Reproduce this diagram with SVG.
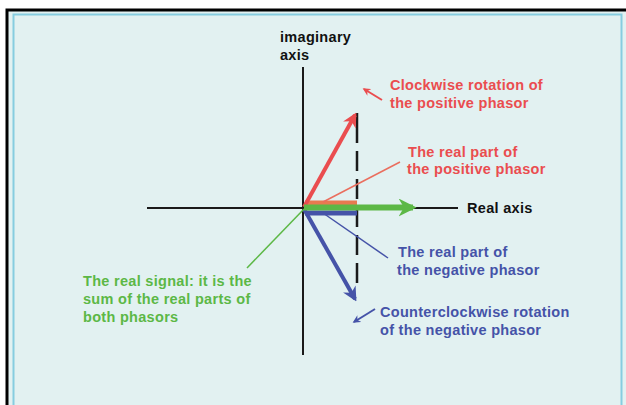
<svg xmlns="http://www.w3.org/2000/svg" width="626" height="405" viewBox="0 0 626 405">
<defs>
<style>
text{font-family:"Liberation Sans",Arial,sans-serif;font-weight:bold;font-size:14.5px;letter-spacing:0.3px}
.red{fill:#ea4d4f}
.blue{fill:#4553a8}
.green{fill:#5cb846}
.blk{fill:#111}
.axis{stroke:#1a1a1a;stroke-width:2;fill:none}
</style>
<marker id="hr" viewBox="0 0 10 10" refX="8" refY="5" markerWidth="3.6" markerHeight="3.6" orient="auto" markerUnits="strokeWidth"><path d="M0,0 L10,5 L0,10 L3,5 Z" fill="#ea4d4f"/></marker>
<marker id="hb" viewBox="0 0 10 10" refX="8" refY="5" markerWidth="3.6" markerHeight="3.6" orient="auto" markerUnits="strokeWidth"><path d="M0,0 L10,5 L0,10 L3,5 Z" fill="#4553a8"/></marker>
<marker id="hg" viewBox="0 0 10 10" refX="8" refY="5" markerWidth="3" markerHeight="3" orient="auto" markerUnits="strokeWidth"><path d="M0,0 L10,5 L0,10 L3,5 Z" fill="#5cb846"/></marker>
<marker id="sr" viewBox="0 0 10 10" refX="8" refY="5" markerWidth="4" markerHeight="4" orient="auto" markerUnits="strokeWidth"><path d="M0,0 L10,5 L0,10 L3,5 Z" fill="#ea4d4f"/></marker>
<marker id="sb" viewBox="0 0 10 10" refX="8" refY="5" markerWidth="4" markerHeight="4" orient="auto" markerUnits="strokeWidth"><path d="M0,0 L10,5 L0,10 L3,5 Z" fill="#4553a8"/></marker>
</defs>
<rect x="0" y="0" width="626" height="405" fill="#ffffff"/>
<rect x="7" y="10" width="630" height="410" fill="#e2f1f1" stroke="#000" stroke-width="3"/>
<rect x="13.5" y="14.5" width="608" height="400" fill="#e2f1f1" stroke="#86cde0" stroke-width="2"/>
<g id="connectors">
<line class="axis" x1="303" y1="67" x2="303" y2="355"/>
<line class="axis" x1="147" y1="208" x2="458" y2="208"/>
<line x1="357" y1="113" x2="357" y2="300" stroke="#1a1a1a" stroke-width="2.5" stroke-dasharray="30,8,20,8,20,8,20,8,20,8,20"/>
<line x1="357" y1="203" x2="305" y2="203" stroke="#e87a50" stroke-width="5"/>
<line x1="357" y1="213" x2="305" y2="213" stroke="#4553a8" stroke-width="5"/>
<line x1="304" y1="207" x2="355" y2="115" stroke="#ea4d4f" stroke-width="4" marker-end="url(#hr)"/>
<line x1="304" y1="209" x2="355" y2="299" stroke="#4553a8" stroke-width="4" marker-end="url(#hb)"/>
<line x1="304" y1="207.5" x2="413" y2="207.5" stroke="#5cb846" stroke-width="6" marker-end="url(#hg)"/>
<line x1="323" y1="202" x2="400" y2="162" stroke="#ea6e5e" stroke-width="1.5"/>
<line x1="323" y1="213" x2="388" y2="258" stroke="#4553a8" stroke-width="1.5"/>
<line x1="304" y1="209" x2="247" y2="268" stroke="#5cb846" stroke-width="1.5"/>
<line x1="382" y1="100" x2="364" y2="89" stroke="#ea4d4f" stroke-width="2" marker-end="url(#sr)"/>
<line x1="375" y1="309" x2="354" y2="322" stroke="#4553a8" stroke-width="2" marker-end="url(#sb)"/>
</g>
<g id="imag-axis-label"><text class="blk" x="280" y="42">imaginary</text><text class="blk" x="280" y="60">axis</text></g>
<g id="real-axis-label"><text class="blk" x="467" y="213">Real axis</text></g>
<g id="clockwise-label"><text class="red" x="390" y="90">Clockwise rotation of</text><text class="red" x="390" y="108">the positive phasor</text></g>
<g id="real-positive-label"><text class="red" x="408" y="157">The real part of</text><text class="red" x="407" y="174">the positive phasor</text></g>
<g id="real-negative-label"><text class="blue" x="398" y="257">The real part of</text><text class="blue" x="397" y="275">the negative phasor</text></g>
<g id="counter-label"><text class="blue" x="380" y="317">Counterclockwise rotation</text><text class="blue" x="380" y="335">of the negative phasor</text></g>
<g id="real-signal-label"><text class="green" x="83" y="286">The real signal: it is the</text><text class="green" x="83" y="304">sum of the real parts of</text><text class="green" x="83" y="322">both phasors</text></g>
</svg>
